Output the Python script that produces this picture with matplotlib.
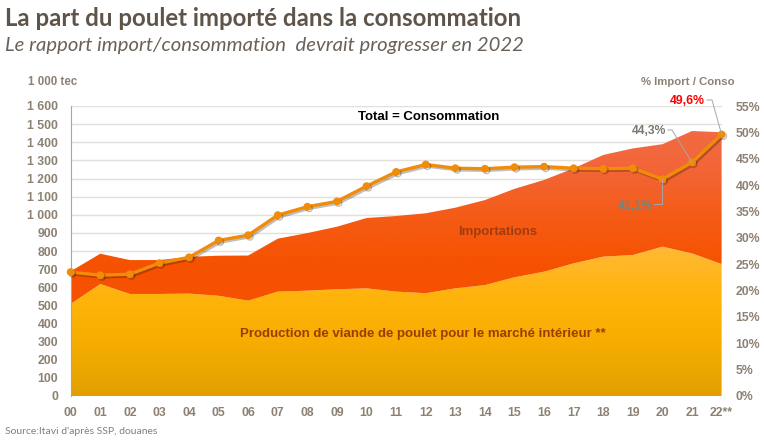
import matplotlib
matplotlib.use('Agg')
import matplotlib.pyplot as plt
import numpy as np
from matplotlib import patheffects as pe
from matplotlib.colors import LinearSegmentedColormap
from matplotlib.lines import Line2D

# ---------------- data ----------------
years = ['00', '01', '02', '03', '04', '05', '06', '07', '08', '09', '10', '11',
         '12', '13', '14', '15', '16', '17', '18', '19', '20', '21', '22**']
production = [508, 618, 563, 563, 565, 553, 526, 576, 581, 589, 594, 576,
              567, 594, 612, 655, 686, 732, 769, 778, 824, 787, 728]
consommation = [688, 785, 750, 750, 768, 774, 775, 868, 899, 934, 982, 993,
                1008, 1039, 1081, 1143, 1192, 1256, 1330, 1366, 1389, 1462, 1455]
pct_import = [23.5, 22.9, 23.1, 25.2, 26.3, 29.5, 30.5, 34.3, 35.9, 36.9, 39.8, 42.5,
              43.9, 43.2, 43.1, 43.4, 43.5, 43.2, 43.1, 43.2, 41.1, 44.3, 49.6]
left_ticks = list(range(0, 1601, 100))
right_ticks = list(range(0, 56, 5))

# ---------------- figure ----------------
W, H = 764, 443
fig = plt.figure(figsize=(W / 100, H / 100), dpi=100)
fig.patch.set_facecolor('white')

x0, x1 = 70.7, 721.6
ytop, ybot = 106, 396
ax = fig.add_axes([x0 / W, (H - ybot) / H, (x1 - x0) / W, (ybot - ytop) / H])
ax.set_facecolor('none')
x = np.arange(len(years))
ax.set_xlim(0, len(years) - 1)
ax.set_ylim(0, 1600)

# grid
for t in left_ticks[1:]:
    ax.axhline(t, color='#E3DFDA', lw=1.0, zorder=0)

# gradient helper
def grad_fill(lower, upper, stops, z):
    poly = ax.fill_between(x, lower, upper, facecolor='none', edgecolor='none', zorder=z)
    cmap = LinearSegmentedColormap.from_list('g', stops)
    img = np.linspace(0, 1, 256).reshape(-1, 1)
    im = ax.imshow(img, cmap=cmap, aspect='auto', origin='lower',
                   extent=[0, len(years) - 1, 0, 1600], zorder=z, interpolation='bicubic')
    im.set_clip_path(poly.get_paths()[0], transform=ax.transData)

grad_fill(np.zeros(len(x)), production,
          [(0.0, '#E2A000'), (0.2, '#F7AE00'), (0.35, '#FFB40C'), (0.55, '#FFBA3E'), (1.0, '#FFC060')], 1)
grad_fill(production, consommation,
          [(0.0, '#F55000'), (0.45, '#F55200'), (0.6, '#F55A12'), (0.8, '#F3663A'), (1.0, '#F06E48')], 1)
ax.set_xlim(0, len(years) - 1)
ax.set_ylim(0, 1600)

# axes styling
for s in ['top', 'right', 'bottom']:
    ax.spines[s].set_visible(False)
ax.spines['left'].set_color('#9AA8BC')
ax.spines['left'].set_linewidth(0.8)
ax.spines['left'].set_zorder(5)

tick_col = '#8C8173'
tfont = dict(family='Liberation Sans', weight='bold', size=8.8, color=tick_col)
ax.set_yticks(left_ticks)
ax.set_yticklabels([f'{t:,}'.replace(',', ' ') for t in left_ticks], **tfont)
ax.set_xticks(x)
ax.set_xticklabels(years, **tfont)
ax.tick_params(axis='both', length=0)
ax.tick_params(axis='y', pad=9)
ax.tick_params(axis='x', pad=8)

ax2 = ax.twinx()
ax2.set_ylim(0, 55)
ax2.set_yticks(right_ticks)
ax2.set_yticklabels([f'{t}%' for t in right_ticks], **tfont)
ax2.tick_params(axis='y', length=0, pad=10)
for s in ax2.spines.values():
    s.set_visible(False)

line_col = '#F08C0A'
ax2.plot(x, pct_import, color=line_col, lw=2.4, marker='o', markersize=4.6,
         markerfacecolor=line_col, markeredgecolor=line_col, zorder=6, clip_on=False,
         path_effects=[pe.SimpleLineShadow(offset=(1.2, -1.2), shadow_color='#000000', alpha=0.25),
                       pe.Normal()])

# ---------------- texts ----------------
fig.canvas.draw()
renderer = fig.canvas.get_renderer()

def ftext(xl, xr, yc, s, ha='left', fit=True, **kw):
    t = fig.text(xl / W, 1 - yc / H, s, ha='left', va='center', **kw)
    if fit:
        bb = t.get_window_extent(renderer)
        t.set_fontsize(t.get_fontsize() * (xr - xl) / bb.width)
    return t

ftext(5, 520, 19, 'La part du poulet importé dans la consommation',
      family='Lato', weight='bold', size=18, color='#5E5449')
ftext(5, 523, 46, 'Le rapport import/consommation  devrait progresser en 2022',
      family='Lato', style='italic', size=13, color='#6A6158')
ftext(28, 77, 82, '1 000 tec', family='Liberation Sans', weight='bold', size=8.5, color=tick_col)
ftext(641, 734, 82, '% Import / Conso', family='Liberation Sans', weight='bold', size=8.5, color=tick_col)
ftext(358, 500, 117, 'Total = Consommation', family='Liberation Sans', weight='bold', size=9.5, color='#000000')
ftext(458, 537, 232, 'Importations', family='Liberation Sans', weight='bold', size=9.5, color='#A23A12', zorder=10)
ftext(240, 607, 334, 'Production de viande de poulet pour le marché intérieur **',
      family='Liberation Sans', weight='bold', size=9.5, color='#9C3C04', zorder=10)
ftext(5, 158, 432, "Source:Itavi d'après SSP, douanes", family='Lato', size=7, color='#7F7F7F')

# value annotations with leader lines
def pt_px(i):
    dx, dy = ax2.transData.transform((x[i], pct_import[i]))
    return dx, H - dy

def leader(pts):
    xs = [p[0] / W for p in pts]
    ys = [1 - p[1] / H for p in pts]
    fig.add_artist(Line2D(xs, ys, transform=fig.transFigure, color='#A6A6A6', lw=0.7, zorder=7))

p22 = pt_px(22); p21 = pt_px(21); p20 = pt_px(20)
ftext(670, 705, 101, '49,6%', family='Liberation Sans', weight='bold', size=9, color='#FF0000')
leader([(707, 100), (712, 100), p22])
ftext(632, 667, 131, '44,3%', family='Liberation Sans', weight='bold', size=9, color='#7A7A72')
leader([(668, 130), (672, 130), p21])
ftext(618, 653, 206, '41,1%', family='Liberation Sans', weight='bold', size=9, color='#7B8378')
leader([(654, 204), (p20[0], 204), p20])

fig.savefig('out.png', dpi=100, facecolor='white')
